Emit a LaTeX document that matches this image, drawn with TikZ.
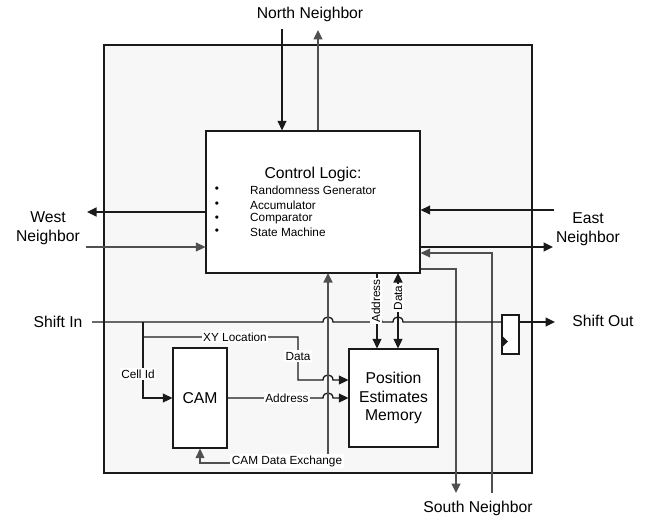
\documentclass[tikz,border=0pt]{standalone}
\usepackage{fontspec}
\setmainfont{Liberation Sans}
\usetikzlibrary{arrows.meta}
\definecolor{bgfill}{HTML}{F7F7F7}
\definecolor{dk}{HTML}{1A1A1A}
\definecolor{gr}{HTML}{505050}
\tikzset{
  wire/.style={draw=dk, line width=1.3pt},
  gwire/.style={draw=gr, line width=1.3pt},
  arr/.style={-{Triangle[length=9.5pt,width=9pt]}},
  darr/.style={{Triangle[length=9.5pt,width=9pt]}-{Triangle[length=9.5pt,width=9pt]}},
  blk/.style={draw=dk, line width=1.3pt, fill=white, inner sep=0pt},
  big/.style={font=\fontsize{15.7}{18.5}\selectfont, inner sep=0pt, align=center},
  small/.style={font=\fontsize{11.8}{13.5}\selectfont, inner sep=1.5pt},
  lbl/.style={small, fill=white},
}
\begin{document}
\begin{tikzpicture}[x=1pt,y=-1pt]
\useasboundingbox (0,0) rectangle (647,516);
% outer cell
\node[draw=dk, line width=1.3pt, fill=bgfill, minimum width=428pt, minimum height=428pt, inner sep=0pt] (cell) at (318,259) {};
% blocks
\node[blk, minimum width=214pt, minimum height=142pt] (ctrl) at (313,202) {};
\node[blk, minimum width=54pt, minimum height=100pt, big] (cam) at (200,398) {CAM};
\node[blk, minimum width=89pt, minimum height=98pt, big] (pem) at (393.5,398) {Position\\Estimates\\Memory};
\node[blk, minimum width=17pt, minimum height=39pt] (reg) at (510.5,334.5) {};
\fill[dk] (reg.west |- 0,335) -- (508,341.5) -- (reg.west |- 0,348) -- cycle;
% control logic text
\node[big] (cltitle) at (313,174) {Control Logic:};
\foreach \i/\yy/\t in {1/190/Randomness Generator,2/205/Accumulator,3/219/Comparator,4/232/State Machine}{
  \node[small, inner sep=0pt] (bul\i) at (217,\yy) {\textbullet};
  \node[small, inner sep=0pt, anchor=west] (item\i) at (250,\yy) {\t};
}
% outside labels
\node[big] (north) at (310,14) {North Neighbor};
\node[big] (west) at (48,228) {West\\Neighbor};
\node[big] (east) at (588,229) {East\\Neighbor};
\node[big] (shin) at (58,322) {Shift In};
\node[big] (shout) at (603,321) {Shift Out};
\node[big] (south) at (478,508) {South Neighbor};
% free ends
\coordinate (nin) at (282,29);
\coordinate (nout) at (318,30);
\coordinate (wout) at (87,212);
\coordinate (win) at (86,247);
\coordinate (ein) at (554,210);
\coordinate (eout) at (553,247);
\coordinate (sout) at (456,493);
\coordinate (sin) at (492,493);
\coordinate (shs) at (92,322);
\coordinate (she) at (555,322);
% north
\draw[wire, arr] (nin) -- (nin |- ctrl.north);
\draw[gwire, arr] (nout |- ctrl.north) -- (nout);
% west
\draw[wire, arr] (ctrl.west |- wout) -- (wout);
\draw[gwire, arr] (win) -- (ctrl.west |- win);
% east
\draw[wire, arr] (ein) -- (ctrl.east |- ein);
\draw[wire, arr] (ctrl.east |- eout) -- (eout);
% south
\draw[gwire, arr] (ctrl.east |- 0,269) -- (456,269) -- (sout);
\draw[gwire, arr] (sin) -- (492,253) -- (ctrl.east |- 0,253);
% shift chain
\draw[wire] (shs) -- (323,322) .. controls (323,315.3) and (333,315.3) .. (333,322)
  -- (372,322) .. controls (372,315.3) and (382,315.3) .. (382,322)
  -- (393,322) .. controls (393,315.3) and (403,315.3) .. (403,322)
  -- (reg.west |- shs);
\draw[wire, arr] (reg.east |- she) -- (she);
% cell id
\draw[wire, arr] (143,322) -- (143,398) -- (cam.west |- 0,398);
\node[lbl] (cellid) at (138,374) {Cell Id};
% XY location / data
\draw[wire, arr] (143,337) -- (298,337) -- (298,380) -- (323,380)
  .. controls (323,373.3) and (333,373.3) .. (333,380) -- (pem.west |- 0,380);
\node[lbl] (xyl) at (235,337) {XY Location};
\node[lbl] (dataa) at (298,356) {Data};
% address CAM -> PEM
\draw[wire, arr] (cam.east |- 0,398) -- (323,398)
  .. controls (323,391.3) and (333,391.3) .. (333,398) -- (pem.west |- 0,398);
\node[lbl] (addra) at (287,398) {Address};
% CAM data exchange
\draw[gwire, darr] (328,273) -- (328,463) -- (200,463) -- (cam.south);
\node[lbl] (camx) at (287,461) {CAM Data Exchange};
% ctrl <-> PEM
\draw[wire, arr] (377,273) -- (377 ,0 |- pem.north);
\draw[wire, darr] (398,273) -- (398,0 |- pem.north);
\node[lbl, rotate=90] (addrb) at (376,301) {Address};
\node[lbl, rotate=90] (datab) at (398,298) {Data};
\end{tikzpicture}
\end{document}
